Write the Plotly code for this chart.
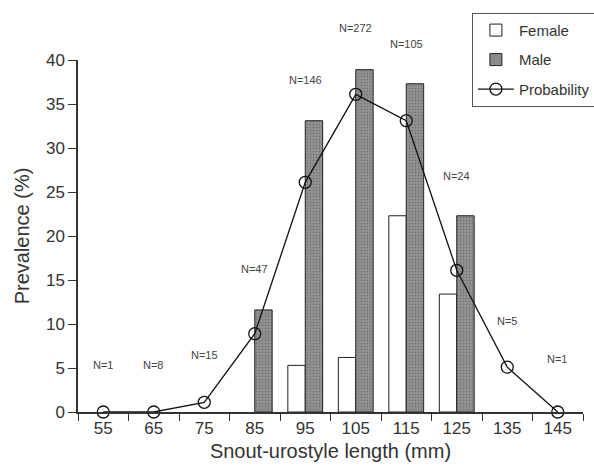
import plotly.graph_objects as go

# Data
length_classes = [55, 65, 75, 85, 95, 105, 115, 125, 135, 145]
female = [None, None, None, None, 5.3, 6.2, 22.3, 13.4, None, None]
male = [None, None, None, 11.6, 33.1, 38.9, 37.3, 22.3, None, None]
probability = [0, 0, 1.1, 8.9, 26.1, 36.1, 33.1, 16.1, 5.1, 0]
sample_n = [1, 8, 15, 47, 146, 272, 105, 24, 5, 1]
label_height = [5.3, 5.3, 6.5, 16.3, 37.7, 43.6, 41.8, 26.8, 10.3, 6.0]
y_ticks = [0, 5, 10, 15, 20, 25, 30, 35, 40]

Y_MAX = 40
FONT = "Liberation Sans, Arial, sans-serif"
INK = "#333333"

fig = go.Figure()
fig.add_trace(go.Bar(
    x=length_classes, y=female, name="Female", legendgroup="f",
    marker=dict(color="white", line=dict(color="#222", width=1)),
))
fig.add_trace(go.Bar(
    x=length_classes, y=male, name="Male", legendgroup="m",
    marker=dict(color="#8a8a8a", line=dict(color="#222", width=1),
                pattern=dict(shape=".", size=3, solidity=0.35,
                             fgcolor="#555555", bgcolor="#959595")),
))
fig.add_trace(go.Scatter(
    x=length_classes, y=probability, name="Probability", legendgroup="p",
    mode="lines+markers", cliponaxis=False,
    line=dict(color="#111", width=1.3),
    marker=dict(symbol="circle-open", size=12, color="#111", line=dict(width=1.3)),
))

# Sample-size labels (some sit above the axis range, so placed on the paper scale)
for x, n, h in zip(length_classes, sample_n, label_height):
    fig.add_annotation(x=x, xref="x", y=h / Y_MAX, yref="paper", text=f"N={n}",
                       xanchor="center", yanchor="middle", showarrow=False,
                       font=dict(family=FONT, size=11, color="#444"))

boundaries = [c - 5 for c in length_classes] + [length_classes[-1] + 5]

fig.update_layout(
    width=594, height=473,
    margin=dict(l=78, r=11, t=60, b=61, autoexpand=False),
    paper_bgcolor="white", plot_bgcolor="white",
    barmode="group", bargap=0.31, bargroupgap=0,
    font=dict(family=FONT, color=INK),
    showlegend=True,
    legend=dict(x=0.78, y=1.134, xanchor="left", yanchor="top",
                bordercolor="#555", borderwidth=1, bgcolor="white",
                font=dict(size=15, color=INK), tracegroupgap=7,
                traceorder="grouped", itemwidth=36),
    xaxis=dict(range=[50, 150], tickvals=length_classes,
               ticktext=[str(c) for c in length_classes], ticks="",
               showline=True, linecolor=INK, linewidth=1.5, showgrid=False,
               zeroline=False, tickfont=dict(size=17, color=INK), automargin=False,
               minor=dict(tickvals=boundaries, ticks="outside", ticklen=7,
                          tickcolor=INK, tickwidth=1.2, showgrid=False),
               title=dict(text="Snout-urostyle length (mm)",
                          font=dict(size=20, color=INK), standoff=7)),
    yaxis=dict(range=[0, Y_MAX], tickvals=y_ticks, ticks="outside",
               ticklen=8, tickcolor=INK, tickwidth=1.2, automargin=False,
               showline=True, linecolor=INK, linewidth=1.5, showgrid=False,
               zeroline=False, tickfont=dict(size=17, color=INK),
               title=dict(text="Prevalence (%)", font=dict(size=20, color=INK),
                          standoff=11)),
)

fig.write_html("out.html", config={"displayModeBar": False},
               post_script="document.body.style.margin='0';")
